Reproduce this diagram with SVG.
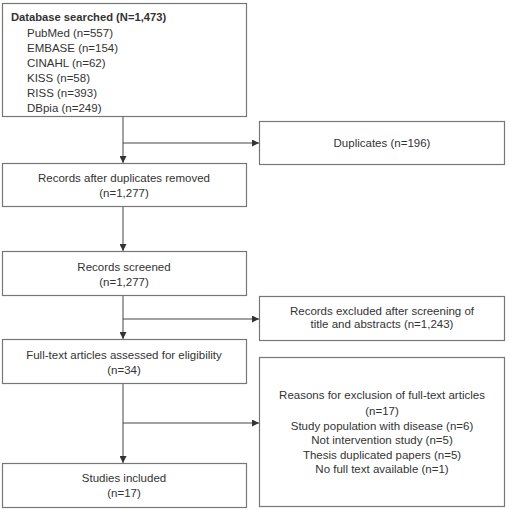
<svg xmlns="http://www.w3.org/2000/svg" width="510" height="510" viewBox="0 0 510 510">
<style>
.box{fill:#fff;stroke:#777;stroke-width:1.2}
.t{font-family:"Liberation Sans",Arial,sans-serif;font-size:11.5px;fill:#333}
.c{text-anchor:middle}
.b{font-weight:bold;font-size:11.2px}
.ln{fill:none;stroke:#444;stroke-width:1}
</style>
<defs>
<marker id="ah" viewBox="0 0 10 10" refX="10" refY="5" markerWidth="7" markerHeight="7" markerUnits="userSpaceOnUse" orient="auto">
<path d="M0,0L10,5L0,10z" fill="#333"/>
</marker>
</defs>
<rect width="510" height="510" fill="#fff"/>
<g id="connectors">
<line class="ln" x1="123" y1="117" x2="123" y2="163" marker-end="url(#ah)"/>
<line class="ln" x1="123" y1="143" x2="259" y2="143" marker-end="url(#ah)"/>
<line class="ln" x1="123" y1="207" x2="123" y2="251" marker-end="url(#ah)"/>
<line class="ln" x1="123" y1="296" x2="123" y2="339" marker-end="url(#ah)"/>
<line class="ln" x1="123" y1="319" x2="259" y2="319" marker-end="url(#ah)"/>
<line class="ln" x1="123" y1="384" x2="123" y2="463" marker-end="url(#ah)"/>
<line class="ln" x1="123" y1="423" x2="259" y2="423" marker-end="url(#ah)"/>
</g>
<g id="database">
<rect class="box" x="2.5" y="3.5" width="244" height="113"/>
<text class="t b" x="11" y="21">Database searched (N=1,473)</text>
<text class="t" x="27" y="37">PubMed (n=557)</text>
<text class="t" x="27" y="52">EMBASE (n=154)</text>
<text class="t" x="27" y="67">CINAHL (n=62)</text>
<text class="t" x="27" y="82">KISS (n=58)</text>
<text class="t" x="27" y="97">RISS (n=393)</text>
<text class="t" x="27" y="112">DBpia (n=249)</text>
</g>
<g id="duplicates">
<rect class="box" x="259.5" y="121.5" width="245" height="43"/>
<text class="t c" x="382" y="147">Duplicates (n=196)</text>
</g>
<g id="after-duplicates">
<rect class="box" x="2.5" y="163.5" width="244" height="43"/>
<text class="t c" x="124" y="182">Records after duplicates removed</text>
<text class="t c" x="124" y="197">(n=1,277)</text>
</g>
<g id="screened">
<rect class="box" x="2.5" y="251.5" width="244" height="44"/>
<text class="t c" x="124" y="271">Records screened</text>
<text class="t c" x="124" y="286">(n=1,277)</text>
</g>
<g id="excluded">
<rect class="box" x="259.5" y="296.5" width="245" height="44"/>
<text class="t c" x="382" y="315">Records excluded after screening of</text>
<text class="t c" x="382" y="328">title and abstracts (n=1,243)</text>
</g>
<g id="fulltext">
<rect class="box" x="2.5" y="339.5" width="244" height="44"/>
<text class="t c" x="124" y="359">Full-text articles assessed for eligibility</text>
<text class="t c" x="124" y="374">(n=34)</text>
</g>
<g id="reasons">
<rect class="box" x="259.5" y="357.5" width="245" height="149"/>
<text class="t c" x="382" y="399">Reasons for exclusion of full-text articles</text>
<text class="t c" x="382" y="414.5">(n=17)</text>
<text class="t c" x="382" y="429.5">Study population with disease (n=6)</text>
<text class="t c" x="382" y="444">Not intervention study (n=5)</text>
<text class="t c" x="382" y="458.5">Thesis duplicated papers (n=5)</text>
<text class="t c" x="382" y="473">No full text available (n=1)</text>
</g>
<g id="included">
<rect class="box" x="2.5" y="463.5" width="244" height="44"/>
<text class="t c" x="124" y="482">Studies included</text>
<text class="t c" x="124" y="497">(n=17)</text>
</g>
</svg>
